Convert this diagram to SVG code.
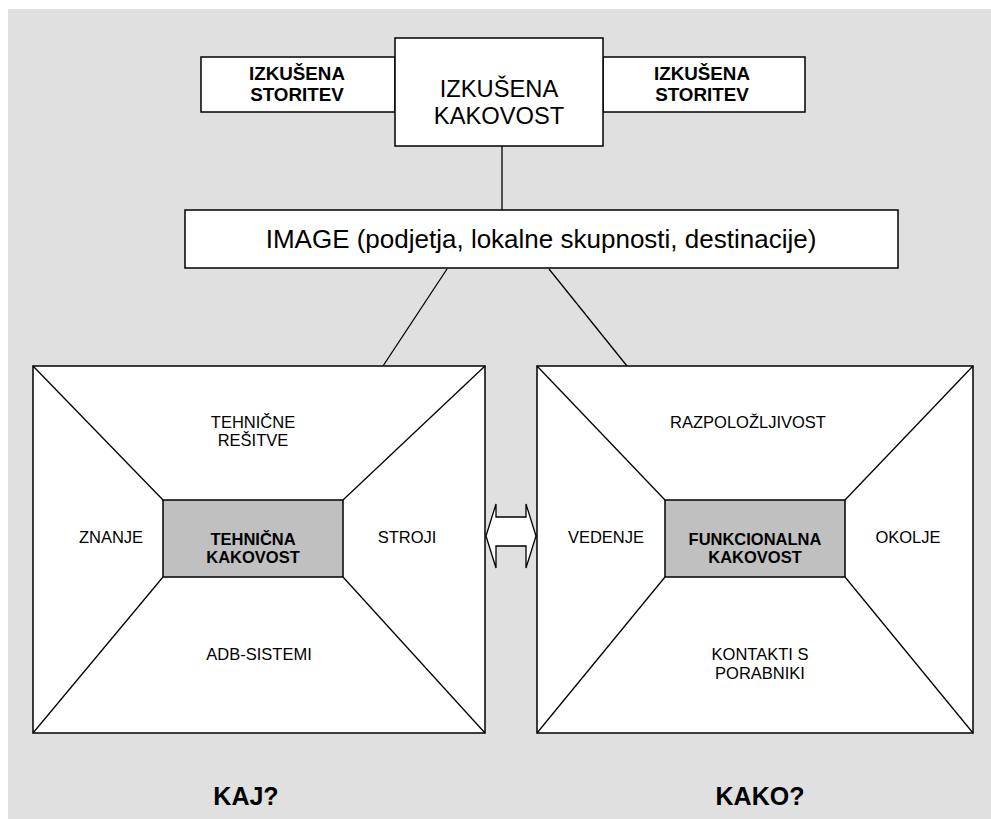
<svg xmlns="http://www.w3.org/2000/svg" width="991" height="819" viewBox="0 0 991 819">
<style>
.box{fill:#fff;stroke:#000;stroke-width:1.5}
.inner{fill:#c0c0c0;stroke:#000;stroke-width:1.5}
.ln{stroke:#000;stroke-width:1.3;fill:none}
text{font-family:"Liberation Sans",Arial,sans-serif;fill:#000;text-anchor:middle}
.b{font-weight:bold}
.s{font-size:16.5px}
</style>
<rect x="0" y="0" width="991" height="819" fill="#fff"/>
<rect x="8" y="9" width="983" height="810" fill="#e0e0e0"/>
<g id="connectors">
<line class="ln" x1="502" y1="146" x2="502" y2="210"/>
<line class="ln" x1="447" y1="269" x2="383" y2="366"/>
<line class="ln" x1="549" y1="269" x2="627" y2="366"/>
<path d="M486 536 L496 504 L496 517 L526 517 L526 504 L536 536 L526 568 L526 546 L496 546 L496 568 Z" fill="#fff" stroke="#000" stroke-width="1.3"/>
</g>
<g id="storitev-left">
<rect class="box" x="201" y="57" width="194" height="55"/>
<text class="b" x="297" y="80" font-size="18.8">IZKUŠENA</text>
<text class="b" x="297" y="101" font-size="18.8">STORITEV</text>
</g>
<g id="storitev-right">
<rect class="box" x="603" y="57" width="202" height="55"/>
<text class="b" x="702" y="80" font-size="18.8">IZKUŠENA</text>
<text class="b" x="702" y="101" font-size="18.8">STORITEV</text>
</g>
<g id="kakovost">
<rect class="box" x="395" y="38" width="208" height="108"/>
<text x="499" y="97" font-size="23.7">IZKUŠENA</text>
<text x="499" y="124" font-size="23.7">KAKOVOST</text>
</g>
<g id="image">
<rect class="box" x="185" y="210" width="713" height="58"/>
<text x="541" y="248" font-size="26">IMAGE (podjetja, lokalne skupnosti, destinacije)</text>
</g>
<g id="tehnicna">
<rect class="box" x="33" y="366" width="452" height="367"/>
<line class="ln" x1="33" y1="366" x2="163" y2="500"/>
<line class="ln" x1="485" y1="366" x2="343" y2="500"/>
<line class="ln" x1="33" y1="733" x2="163" y2="577"/>
<line class="ln" x1="485" y1="733" x2="343" y2="577"/>
<rect class="inner" x="163" y="500" width="180" height="77"/>
<text class="s" x="253" y="428">TEHNIČNE</text>
<text class="s" x="253" y="446">REŠITVE</text>
<text class="s" x="111" y="543">ZNANJE</text>
<text class="s" x="407" y="543">STROJI</text>
<text class="s b" x="253" y="545">TEHNIČNA</text>
<text class="s b" x="253" y="563">KAKOVOST</text>
<text class="s" x="259" y="660">ADB-SISTEMI</text>
</g>
<g id="funkcionalna">
<rect class="box" x="537" y="366" width="436" height="367"/>
<line class="ln" x1="537" y1="366" x2="665" y2="500"/>
<line class="ln" x1="973" y1="366" x2="845" y2="500"/>
<line class="ln" x1="537" y1="733" x2="665" y2="577"/>
<line class="ln" x1="973" y1="733" x2="845" y2="577"/>
<rect class="inner" x="665" y="500" width="180" height="77"/>
<text class="s" x="748" y="428">RAZPOLOŽLJIVOST</text>
<text class="s" x="606" y="543">VEDENJE</text>
<text class="s" x="908" y="543">OKOLJE</text>
<text class="s b" x="755" y="545">FUNKCIONALNA</text>
<text class="s b" x="755" y="563">KAKOVOST</text>
<text class="s" x="760" y="660">KONTAKTI S</text>
<text class="s" x="760" y="679">PORABNIKI</text>
</g>
<g id="kaj">
<text class="b" x="246" y="805" font-size="25">KAJ?</text>
</g>
<g id="kako">
<text class="b" x="760" y="805" font-size="25">KAKO?</text>
</g>
</svg>
